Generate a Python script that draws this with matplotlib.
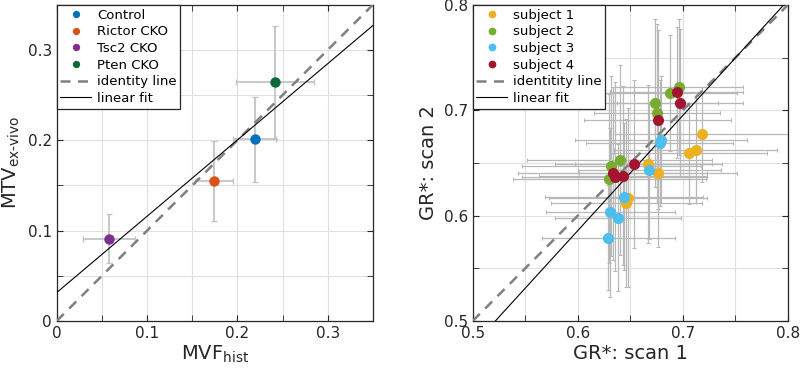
import numpy as np
import matplotlib.pyplot as plt
from matplotlib.ticker import MultipleLocator

plt.rcParams['font.family'] = ['DejaVu Sans']

# --- LEFT PANEL DATA: MTV ex-vivo vs MVF hist ---
groups = ['Control', 'Rictor CKO', 'Tsc2 CKO', 'Pten CKO']
group_colors = ['#0072BD', '#D95319', '#7E2F8E', '#0B6A38']
mvf = [0.219, 0.174, 0.058, 0.242]
mvf_err = [0.024, 0.021, 0.029, 0.043]
mtv = [0.201, 0.155, 0.091, 0.264]
mtv_err = [0.047, 0.044, 0.027, 0.063]

# --- RIGHT PANEL DATA: GR* scan 1 vs scan 2 ---
subjects = ['subject 1', 'subject 2', 'subject 3', 'subject 4']
subject_colors = ['#EDB120', '#77AC30', '#4DBEEE', '#A2142F']
scan1 = [
    [0.718, 0.712, 0.706, 0.667, 0.676, 0.648, 0.646],
    [0.696, 0.688, 0.673, 0.675, 0.640, 0.632, 0.630],
    [0.679, 0.678, 0.668, 0.644, 0.631, 0.638, 0.629],
    [0.694, 0.697, 0.676, 0.653, 0.635, 0.643, 0.633],
]
scan1_err = [
    [0.083, 0.078, 0.074, 0.070, 0.075, 0.075, 0.072],
    [0.061, 0.063, 0.060, 0.060, 0.088, 0.085, 0.092],
    [0.082, 0.070, 0.068, 0.075, 0.061, 0.060, 0.063],
    [0.063, 0.060, 0.070, 0.075, 0.088, 0.080, 0.090],
]
scan2 = [
    [0.677, 0.662, 0.659, 0.649, 0.640, 0.617, 0.612],
    [0.722, 0.716, 0.707, 0.697, 0.653, 0.647, 0.635],
    [0.672, 0.669, 0.643, 0.618, 0.603, 0.598, 0.579],
    [0.717, 0.707, 0.691, 0.649, 0.637, 0.638, 0.640],
]
scan2_err = [
    [0.045, 0.050, 0.048, 0.075, 0.070, 0.085, 0.080],
    [0.065, 0.055, 0.080, 0.085, 0.090, 0.085, 0.080],
    [0.060, 0.060, 0.065, 0.070, 0.080, 0.070, 0.050],
    [0.062, 0.070, 0.085, 0.080, 0.090, 0.085, 0.082],
]
# linear fit shown in the right panel (slope, intercept)
scan_fit = [1.093, -0.070]


def style_axes(ax, lo, hi):
    ax.set_xlim(lo, hi)
    ax.set_ylim(lo, hi)
    ax.xaxis.set_major_locator(MultipleLocator(0.1))
    ax.yaxis.set_major_locator(MultipleLocator(0.1))
    ax.xaxis.set_minor_locator(MultipleLocator(0.05))
    ax.yaxis.set_minor_locator(MultipleLocator(0.05))
    ax.grid(True, which='both', color='#e0e0e0', linewidth=0.8)
    ax.set_axisbelow(True)
    ax.tick_params(which='both', direction='in', top=True, right=True,
                   color='#262626', labelsize=11, labelcolor='#262626', length=4)
    for sp in ax.spines.values():
        sp.set_color('#262626')
        sp.set_linewidth(0.9)


fig = plt.figure(figsize=(8.0, 3.71), dpi=100)
ax1 = fig.add_axes([0.071, 0.135, 0.395, 0.852])
ax2 = fig.add_axes([0.591, 0.135, 0.394, 0.852])

# left panel
style_axes(ax1, 0, 0.35)
ax1.xaxis.set_major_formatter(lambda v, p: '0' if abs(v) < 1e-9 else f'{v:.1f}')
ax1.yaxis.set_major_formatter(lambda v, p: '0' if abs(v) < 1e-9 else f'{v:.1f}')
for x, xe, y, ye in zip(mvf, mvf_err, mtv, mtv_err):
    ax1.errorbar(x, y, xerr=xe, yerr=ye, fmt='none', ecolor='#c4c4c4',
                 elinewidth=1.3, capsize=2.5, capthick=1.0, zorder=2)
for name, c, x, y in zip(groups, group_colors, mvf, mtv):
    ax1.plot(x, y, 'o', color=c, markersize=6.5, label=name, zorder=4)
ident = np.array([0, 0.35])
ax1.plot(ident, ident, '--', color='#808080', linewidth=1.8, dashes=(4, 3),
         label='identity line', zorder=3)
k1, b1 = np.polyfit(mvf, mtv, 1)
ax1.plot(ident, k1 * ident + b1, '-', color='black', linewidth=0.8,
         label='linear fit', zorder=3)
ax1.set_xlabel('MVF$_{\\mathregular{hist}}$', fontsize=14, color='#262626', labelpad=2)
ax1.set_ylabel('MTV$_{\\mathregular{ex\\text{-}vivo}}$', fontsize=14, color='#262626', labelpad=4)

# right panel
style_axes(ax2, 0.5, 0.8)
ax2.xaxis.set_major_formatter(lambda v, p: f'{v:.1f}')
ax2.yaxis.set_major_formatter(lambda v, p: f'{v:.1f}')
for xs, xe, ys, ye in zip(scan1, scan1_err, scan2, scan2_err):
    ax2.errorbar(xs, ys, xerr=xe, yerr=ye, fmt='none', ecolor='#b8b8b8',
                 elinewidth=0.9, capsize=1.5, capthick=0.8, zorder=2)
for name, c, xs, ys in zip(subjects, subject_colors, scan1, scan2):
    ax2.plot(xs, ys, 'o', color=c, markersize=7, label=name, zorder=4)
ident2 = np.array([0.5, 0.8])
ax2.plot(ident2, ident2, '--', color='#808080', linewidth=1.8, dashes=(4, 3),
         label='identitity line', zorder=3)
ax2.plot(ident2, scan_fit[0] * ident2 + scan_fit[1], '-', color='black',
         linewidth=0.8, label='linear fit', zorder=3)
ax2.set_xlabel('GR*: scan 1', fontsize=14, color='#262626', labelpad=2)
ax2.set_ylabel('GR*: scan 2', fontsize=14, color='#262626', labelpad=4)

for ax in (ax1, ax2):
    leg = ax.legend(loc='upper left', fontsize=9.5, frameon=True, fancybox=False,
                    borderaxespad=0, handlelength=2.3, handletextpad=0.45,
                    labelspacing=0.28, borderpad=0.28, markerscale=0.65)
    leg.get_frame().set_edgecolor('#262626')
    leg.get_frame().set_linewidth(0.9)
    leg.get_frame().set_alpha(1)

fig.savefig('out.png', dpi=100)
